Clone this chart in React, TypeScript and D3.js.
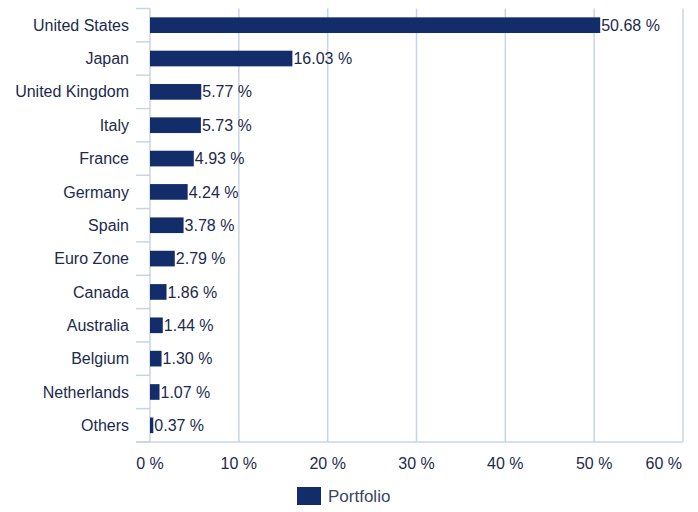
import { useEffect, useRef } from 'react';
import * as d3 from 'd3';

const countries = [
  'United States', 'Japan', 'United Kingdom', 'Italy', 'France', 'Germany', 'Spain',
  'Euro Zone', 'Canada', 'Australia', 'Belgium', 'Netherlands', 'Others',
];
const portfolio = [50.68, 16.03, 5.77, 5.73, 4.93, 4.24, 3.78, 2.79, 1.86, 1.44, 1.3, 1.07, 0.37];
const xTicks = [0, 10, 20, 30, 40, 50, 60];
const seriesName = 'Portfolio';

const BAR = '#132d6b';
const TEXT = '#1c2b4d';
const GRID = '#c8d4e5';
const FONT = '"Liberation Sans", Arial, Helvetica, sans-serif';

const App = () => {
  const ref = useRef<SVGSVGElement>(null);

  useEffect(() => {
    if (!ref.current) return;
    const svg = d3.select(ref.current);
    svg.selectAll('*').remove();

    const left = 150, right = 683, top = 8.5, bottom = 442;
    const x = d3.scaleLinear().domain([0, 60]).range([left, right]);
    const rows = d3.scaleBand().domain(countries).range([top, bottom]).padding(0);
    const y = d3.scaleBand().domain(countries).range([top, bottom])
      .paddingInner(0.53).paddingOuter(0.265);

    // vertical grid lines
    svg.append('g')
      .selectAll('line')
      .data(xTicks)
      .enter()
      .append('line')
      .attr('x1', d => x(d)).attr('x2', d => x(d))
      .attr('y1', top).attr('y2', bottom)
      .attr('stroke', GRID)
      .attr('stroke-width', 1.5);

    // category separators on the left
    const bounds = countries.map(c => rows(c) || 0).concat([bottom]);
    svg.append('g')
      .selectAll('line')
      .data(bounds)
      .enter()
      .append('line')
      .attr('x1', 136).attr('x2', left)
      .attr('y1', d => d).attr('y2', d => d)
      .attr('stroke', GRID)
      .attr('stroke-width', 1.5);

    // x axis base line
    svg.append('line')
      .attr('x1', 136).attr('x2', right)
      .attr('y1', bottom).attr('y2', bottom)
      .attr('stroke', GRID)
      .attr('stroke-width', 1.5);

    // bars
    svg.selectAll('.bar')
      .data(portfolio)
      .enter()
      .append('rect')
      .attr('class', 'bar')
      .attr('x', x(0))
      .attr('y', (_, i) => y(countries[i]) || 0)
      .attr('width', d => x(d) - x(0))
      .attr('height', y.bandwidth())
      .attr('fill', BAR);

    // value labels
    svg.selectAll('.val')
      .data(portfolio)
      .enter()
      .append('text')
      .attr('class', 'val')
      .attr('x', d => x(d) + 1)
      .attr('y', (_, i) => (y(countries[i]) || 0) + y.bandwidth() / 2)
      .attr('dy', '0.35em')
      .style('font-family', FONT)
      .style('font-size', '16px')
      .attr('fill', TEXT)
      .text(d => `${d.toFixed(2)} %`);

    // category labels
    svg.selectAll('.cat')
      .data(countries)
      .enter()
      .append('text')
      .attr('class', 'cat')
      .attr('x', 129)
      .attr('y', d => (rows(d) || 0) + rows.bandwidth() / 2)
      .attr('dy', '0.35em')
      .attr('text-anchor', 'end')
      .style('font-family', FONT)
      .style('font-size', '16px')
      .attr('fill', TEXT)
      .text(d => d);

    // x tick labels
    svg.selectAll('.xt')
      .data(xTicks)
      .enter()
      .append('text')
      .attr('class', 'xt')
      .attr('x', (d, i) => (i === xTicks.length - 1 ? right - 1 : x(d)))
      .attr('y', 463)
      .attr('dy', '0.35em')
      .attr('text-anchor', (_, i) => (i === xTicks.length - 1 ? 'end' : 'middle'))
      .style('font-family', FONT)
      .style('font-size', '16px')
      .attr('fill', TEXT)
      .text(d => `${d} %`);

    // legend
    const legend = svg.append('g').attr('transform', 'translate(297,487)');
    legend.append('rect')
      .attr('width', 24).attr('height', 18)
      .attr('fill', BAR);
    legend.append('text')
      .attr('x', 31).attr('y', 9)
      .attr('dy', '0.35em')
      .style('font-family', FONT)
      .style('font-size', '17px')
      .attr('fill', '#3a4660')
      .text(seriesName);
  }, []);

  return (
    <svg
      ref={ref}
      width={698}
      height={512}
      style={{ position: 'absolute', left: 0, top: 0, background: '#fff' }}
    />
  );
};

export default App;
